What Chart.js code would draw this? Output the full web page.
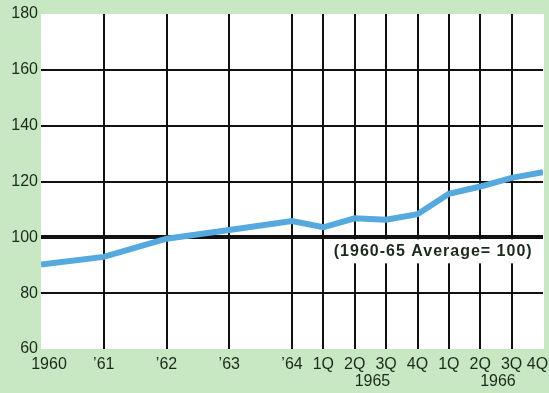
<!DOCTYPE html>
<html>
<head>
<meta charset="utf-8">
<script src="https://cdn.jsdelivr.net/npm/chart.js@4/dist/chart.umd.min.js"></script>
<style>
  html, body { margin: 0; padding: 0; background: #c8e8c3; }
  #wrap { width: 549px; height: 393px; }
</style>
</head>
<body>
<div id="wrap"><canvas id="chart"></canvas></div>
<script>
// periods along the bottom: yearly up to '64, quarterly after that
const periods = ["1960", "\u201961", "\u201962", "\u201963", "\u201964",
  "1Q", "2Q", "3Q", "4Q", "1Q", "2Q", "3Q", "4Q"];
const quarterly = [false, false, false, false, false,
  true, true, true, true, true, true, true, true];
const indexValues = [90.3, 93, 99.5, 102.6, 105.8,
  103.6, 106.8, 106.3, 108.3, 115.6, 118.2, 121.3, 123.3];
const yTicks = [60, 80, 100, 120, 140, 160, 180];
const yearGroups = ["1965", "1966"];
const baseValue = 100;
const note = "(1960-65 Average= 100)";

const textColor = "#1b2a1c";
const tickFont = { family: "'Liberation Sans', Arial, sans-serif", size: 16 };

// a year takes two slots, a quarter one
const slots = [];
periods.forEach((p, i) => {
  if (i === 0) slots.push(0);
  else slots.push(slots[i - 1] + (quarterly[i] ? 1 : 2));
});
const lastSlot = slots[slots.length - 1];

// year captions sit under the middle of 2Q/3Q of each quarterly year
const qStart = quarterly.indexOf(true);
const yearSlots = yearGroups.map((y, k) => (slots[qStart + k * 4 + 1] + slots[qStart + k * 4 + 2]) / 2);

// nudge the end labels inward with spaces so they stay on the canvas
function tickText(i) {
  if (i === 0) return "\u2002\u2002" + periods[i];
  if (i === periods.length - 1) return periods[i] + "\u2002\u2009";
  return periods[i];
}

const plotBg = {
  id: "plotBg",
  beforeDraw(chart) {
    const { ctx, chartArea: a } = chart;
    ctx.save();
    ctx.fillStyle = "#ffffff";
    ctx.fillRect(a.left, a.top, a.right - a.left + 1, a.bottom - a.top);
    ctx.restore();
  }
};

const extras = {
  id: "extras",
  afterDatasetsDraw(chart) {
    const { ctx, scales: { x, y } } = chart;
    ctx.save();
    // note box under the 100 line
    ctx.font = "bold 16px 'Liberation Sans', Arial, sans-serif";
    ctx.letterSpacing = "1px";
    const left = x.getPixelForValue(9.3);
    const top = y.getPixelForValue(baseValue) + 2;
    ctx.fillStyle = "#ffffff";
    ctx.fillRect(left, top, x.getPixelForValue(lastSlot) - 1 - left, 24);
    ctx.fillStyle = textColor;
    ctx.textBaseline = "middle";
    ctx.textAlign = "left";
    ctx.fillText(note, left + 1, top + 12);
    // year captions
    ctx.letterSpacing = "0px";
    ctx.font = "16px 'Liberation Sans', Arial, sans-serif";
    ctx.textAlign = "center";
    ctx.textBaseline = "top";
    yearGroups.forEach((t, k) => {
      ctx.fillText(t, x.getPixelForValue(yearSlots[k]) + 2, chart.chartArea.bottom + 25);
    });
    ctx.restore();
  }
};

new Chart(document.getElementById("chart"), {
  type: "line",
  data: {
    datasets: [{
      data: slots.map((s, i) => ({ x: s, y: indexValues[i] })),
      borderColor: "#56a9de",
      borderWidth: 6,
      pointRadius: 0,
      tension: 0,
      fill: false
    }]
  },
  options: {
    responsive: true,
    maintainAspectRatio: false,
    animation: false,
    layout: { padding: { top: 14, right: 6, left: 0, bottom: 0 } },
    plugins: { legend: { display: false }, tooltip: { enabled: false } },
    scales: {
      x: {
        type: "linear",
        min: 0,
        max: lastSlot,
        afterBuildTicks(scale) {
          scale.ticks = slots.map(v => ({ value: v }));
        },
        afterFit(scale) {
          scale.height = 44;
          scale.paddingLeft = 0;
          scale.paddingRight = 0;
        },
        border: { display: false },
        grid: {
          drawTicks: false,
          color: ctx => (ctx.tick && (ctx.tick.value === 0 || ctx.tick.value === lastSlot)) ? "rgba(0,0,0,0)" : "#111111",
          lineWidth: 2
        },
        ticks: {
          autoSkip: false,
          maxRotation: 0,
          padding: 6,
          color: textColor,
          font: tickFont,
          callback: (v, i) => tickText(i)
        }
      },
      y: {
        min: yTicks[0],
        max: yTicks[yTicks.length - 1],
        afterBuildTicks(scale) {
          scale.ticks = yTicks.map(v => ({ value: v }));
        },
        afterFit(scale) { scale.width = 41; },
        border: { display: false },
        grid: {
          drawTicks: false,
          color: ctx => (ctx.tick && (ctx.tick.value === yTicks[0] || ctx.tick.value === yTicks[yTicks.length - 1])) ? "rgba(0,0,0,0)" : "#111111",
          lineWidth: ctx => (ctx.tick && ctx.tick.value === baseValue) ? 4 : 2
        },
        ticks: {
          padding: 3,
          color: textColor,
          font: tickFont
        }
      }
    }
  },
  plugins: [plotBg, extras]
});
</script>
</body>
</html>
